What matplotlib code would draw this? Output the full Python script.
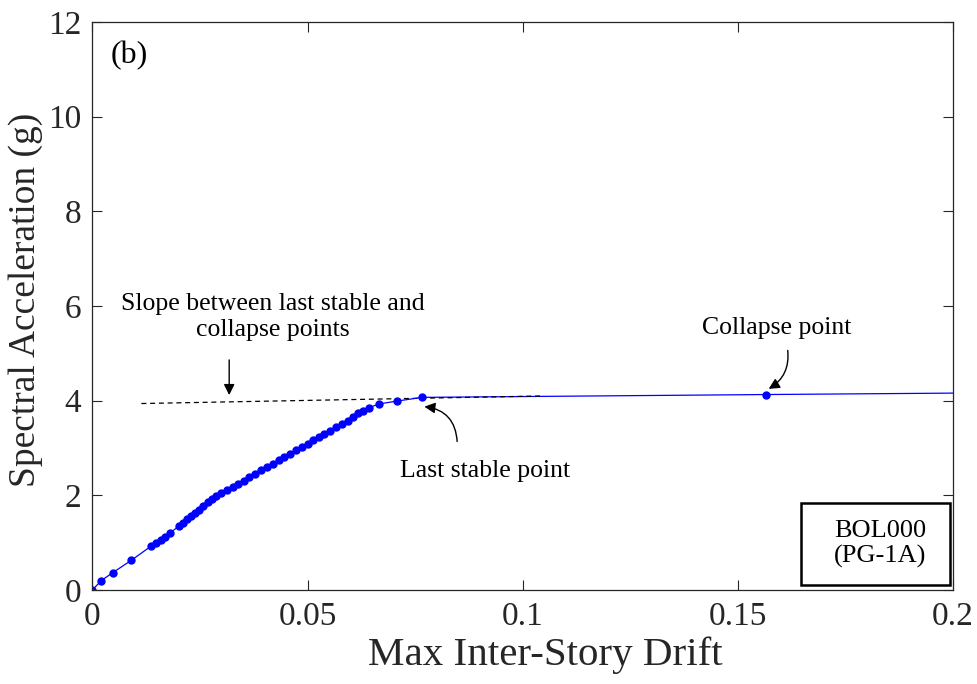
import numpy as np
import matplotlib.pyplot as plt
from matplotlib.patches import Rectangle

plt.rcParams['font.family'] = ['Liberation Serif', 'DejaVu Serif']

# IDA curve points
drift = [0.0, 0.0021, 0.0048, 0.0091, 0.0137, 0.0148, 0.0159, 0.0170, 0.0180,
         0.0201, 0.0210, 0.0220, 0.0230, 0.0239, 0.0249, 0.0258, 0.0269, 0.0278,
         0.0288, 0.0300, 0.0314, 0.0326, 0.0339, 0.0352, 0.0365, 0.0379, 0.0393,
         0.0406, 0.0420, 0.0433, 0.0446, 0.0459, 0.0473, 0.0487, 0.0500, 0.0513,
         0.0526, 0.0539, 0.0553, 0.0567, 0.0580, 0.0593, 0.0606, 0.0618, 0.0630,
         0.0643, 0.0665, 0.0707, 0.0766]
sa = [0.0, 0.20, 0.37, 0.63, 0.93, 0.99, 1.06, 1.13, 1.20,
      1.35, 1.41, 1.49, 1.56, 1.63, 1.70, 1.78, 1.85, 1.92,
      1.98, 2.05, 2.11, 2.17, 2.24, 2.31, 2.38, 2.45, 2.53,
      2.60, 2.67, 2.74, 2.81, 2.88, 2.95, 3.02, 3.09, 3.16,
      3.23, 3.30, 3.37, 3.44, 3.51, 3.58, 3.66, 3.73, 3.79,
      3.85, 3.93, 3.99, 4.07]

# last stable -> collapse -> continuation
flat_x = [0.0766, 0.1566, 0.2]
flat_y = [4.07, 4.13, 4.16]
collapse_x, collapse_y = 0.1566, 4.13

# dashed slope line
slope_x = [0.0114, 0.1048]
slope_y = [3.94, 4.10]

fig = plt.figure(figsize=(9.77, 6.84), dpi=100)
ax = fig.add_axes([0.0945, 0.1374, 0.881, 0.8304])

ax.plot(flat_x, flat_y, color='blue', lw=0.9)
ax.plot(collapse_x, collapse_y, 'o', color='blue', ms=5)
ax.plot(slope_x, slope_y, '--', color='black', lw=0.9, dashes=(4, 3))
ax.plot(drift, sa, '-o', color='blue', lw=0.9, ms=5)

ax.set_xlim(0, 0.2)
ax.set_ylim(0, 12)
ax.set_xticks([0, 0.05, 0.1, 0.15, 0.2])
ax.set_xticklabels(['0', '0.05', '0.1', '0.15', '0.2'])
ax.set_yticks([0, 2, 4, 6, 8, 10, 12])
ax.tick_params(direction='in', length=7, width=0.8, labelsize=24,
               top=True, right=True, pad=8, colors='#262626')
for s in ax.spines.values():
    s.set_linewidth(0.9)
    s.set_color('#262626')

ax.set_xlabel('Max Inter-Story Drift', fontsize=29.5, color='#262626')
ax.set_ylabel('Spectral Acceleration (g)', fontsize=27, color='#262626')
ax.xaxis.set_label_coords(0.526, -0.082)
ax.yaxis.set_label_coords(-0.057, 0.51)

ax.text(0.0085, 11.3, '(b)', fontsize=23, ha='center', va='center')

ax.text(0.0419, 5.77, 'Slope between last stable and\ncollapse points', fontsize=18.5,
        ha='center', va='center', linespacing=1.2)
ax.annotate('', xy=(0.0318, 4.06), xytext=(0.0318, 4.92),
            arrowprops=dict(arrowstyle='-|>', color='black', lw=1, mutation_scale=16))

ax.text(0.0913, 2.52, 'Last stable point', fontsize=18.5, ha='center', va='center')
ax.annotate('', xy=(0.0765, 3.88), xytext=(0.0848, 3.08),
            arrowprops=dict(arrowstyle='-|>', color='black', lw=1, mutation_scale=16,
                            connectionstyle='arc3,rad=0.45'))

ax.text(0.159, 5.54, 'Collapse point', fontsize=18.5, ha='center', va='center')
ax.annotate('', xy=(0.1566, 4.22), xytext=(0.1615, 5.12),
            arrowprops=dict(arrowstyle='-|>', color='black', lw=1, mutation_scale=16,
                            connectionstyle='arc3,rad=-0.35'))

ax.add_patch(Rectangle((0.823, 0.009), 0.174, 0.144, transform=ax.transAxes,
                       fc='white', ec='black', lw=1.8, zorder=5))
ax.text(0.915, 0.081, 'BOL000\n(PG-1A)', transform=ax.transAxes, fontsize=19,
        ha='center', va='center', linespacing=1.2, zorder=6)

fig.savefig('out.png', dpi=100)
